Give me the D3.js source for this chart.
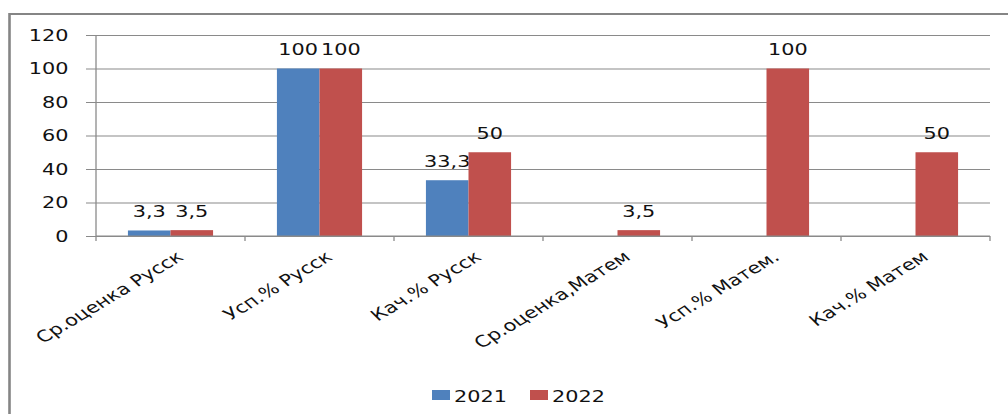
<!DOCTYPE html>
<html>
<head>
<meta charset="utf-8">
<script src="https://cdnjs.cloudflare.com/ajax/libs/d3/7.8.5/d3.min.js"></script>
<style>
  body { margin: 0; background: #fff; }
  svg { display: block; font-family: "DejaVu Sans", Verdana, sans-serif; }
</style>
</head>
<body>
<div id="chart"></div>
<script>
var categories = ["Ср.оценка Русск", "Усп.% Русск", "Кач.% Русск", "Ср.оценка,Матем", "Усп.% Матем.", "Кач.% Матем"];
var series2021 = [3.3, 100, 33.3, null, null, null];
var series2022 = [3.5, 100, 50, 3.5, 100, 50];
var seriesNames = ["2021", "2022"];
var yTicks = [0, 20, 40, 60, 80, 100, 120];

var colors = ["#4f81bd", "#c0504d"];

// the picture is stretched sideways, so draw in narrower space and scale x
var sx = 1.3;
var width = 1008, height = 414;
var plotLeft = 96 / sx, plotRight = 990 / sx;
var plotTop = 35, plotBottom = 236;

var svg = d3.select("#chart")
  .append("svg")
  .attr("width", width)
  .attr("height", height);

var g = svg.append("g").attr("transform", "scale(" + sx + ",1)");

// outer frame
g.append("rect")
  .attr("x", 9.5 / sx)
  .attr("y", 14)
  .attr("width", 1100 / sx)
  .attr("height", 500)
  .attr("fill", "none")
  .attr("stroke", "#858585")
  .attr("stroke-width", 2);

var x = d3.scaleBand()
  .domain(categories)
  .range([plotLeft, plotRight])
  .paddingInner(0)
  .paddingOuter(0);

var y = d3.scaleLinear()
  .domain([0, 120])
  .range([plotBottom, plotTop]);

var sub = d3.scaleBand()
  .domain(seriesNames)
  .range([0, x.bandwidth()])
  .paddingOuter(0.75)
  .paddingInner(0);

// grid + y axis
var tickLen = 10 / sx;
var yAxis = g.append("g")
  .attr("transform", "translate(" + plotRight + ",0)")
  .call(d3.axisLeft(y)
    .tickValues(yTicks)
    .tickSize(plotRight - plotLeft + tickLen)
    .tickSizeOuter(0)
    .tickPadding(13.5));
yAxis.select(".domain").remove();
yAxis.selectAll("line").attr("stroke", "#8a8a8a");
yAxis.selectAll("text")
  .attr("fill", "#111")
  .style("font-size", "16px")
  .style("font-family", "DejaVu Sans, sans-serif");

g.append("line")
  .attr("x1", plotLeft).attr("x2", plotLeft)
  .attr("y1", plotTop).attr("y2", plotBottom)
  .attr("stroke", "#8a8a8a");

// bars
var seriesData = [series2021, series2022];
seriesData.forEach(function (vals, si) {
  var pts = categories.map(function (c, i) { return { c: c, v: vals[i] }; })
    .filter(function (d) { return d.v != null; });

  g.append("g").selectAll("rect")
    .data(pts)
    .join("rect")
    .attr("x", d => x(d.c) + sub(seriesNames[si]))
    .attr("y", d => y(d.v))
    .attr("width", sub.bandwidth())
    .attr("height", d => y(0) - y(d.v))
    .attr("fill", colors[si]);

  g.append("g").selectAll("text")
    .data(pts)
    .join("text")
    .attr("x", d => x(d.c) + sub(seriesNames[si]) + sub.bandwidth() / 2)
    .attr("y", d => y(d.v) - 13)
    .attr("text-anchor", "middle")
    .attr("fill", "#111")
    .style("font-size", "16px")
    .text(d => String(d.v).replace(".", ","));
});

// x axis
g.append("line")
  .attr("x1", plotLeft).attr("x2", plotRight)
  .attr("y1", plotBottom).attr("y2", plotBottom)
  .attr("stroke", "#8a8a8a");

var bounds = categories.map(c => x(c)).concat([plotRight]);
g.append("g").selectAll("line")
  .data(bounds)
  .join("line")
  .attr("x1", d => d).attr("x2", d => d)
  .attr("y1", plotBottom).attr("y2", plotBottom + 5)
  .attr("stroke", "#8a8a8a");

g.append("g").selectAll("text")
  .data(categories)
  .join("text")
  .attr("transform", d => "translate(" + (x(d) + x.bandwidth() / 2 + 4) + "," + (plotBottom + 14) + ") rotate(-38)")
  .attr("text-anchor", "end")
  .attr("dy", "0.7em")
  .attr("fill", "#111")
  .style("font-size", "16px")
  .text(d => d);

// legend
var legend = g.append("g");
var legendX = [432 / sx, 530 / sx];
seriesNames.forEach(function (name, i) {
  legend.append("rect")
    .attr("x", legendX[i])
    .attr("y", 390)
    .attr("width", 18 / sx)
    .attr("height", 10)
    .attr("fill", colors[i]);
  legend.append("text")
    .attr("x", legendX[i] + 22 / sx)
    .attr("y", 402)
    .attr("fill", "#111")
    .style("font-size", "16px")
    .text(name);
});
</script>
</body>
</html>
